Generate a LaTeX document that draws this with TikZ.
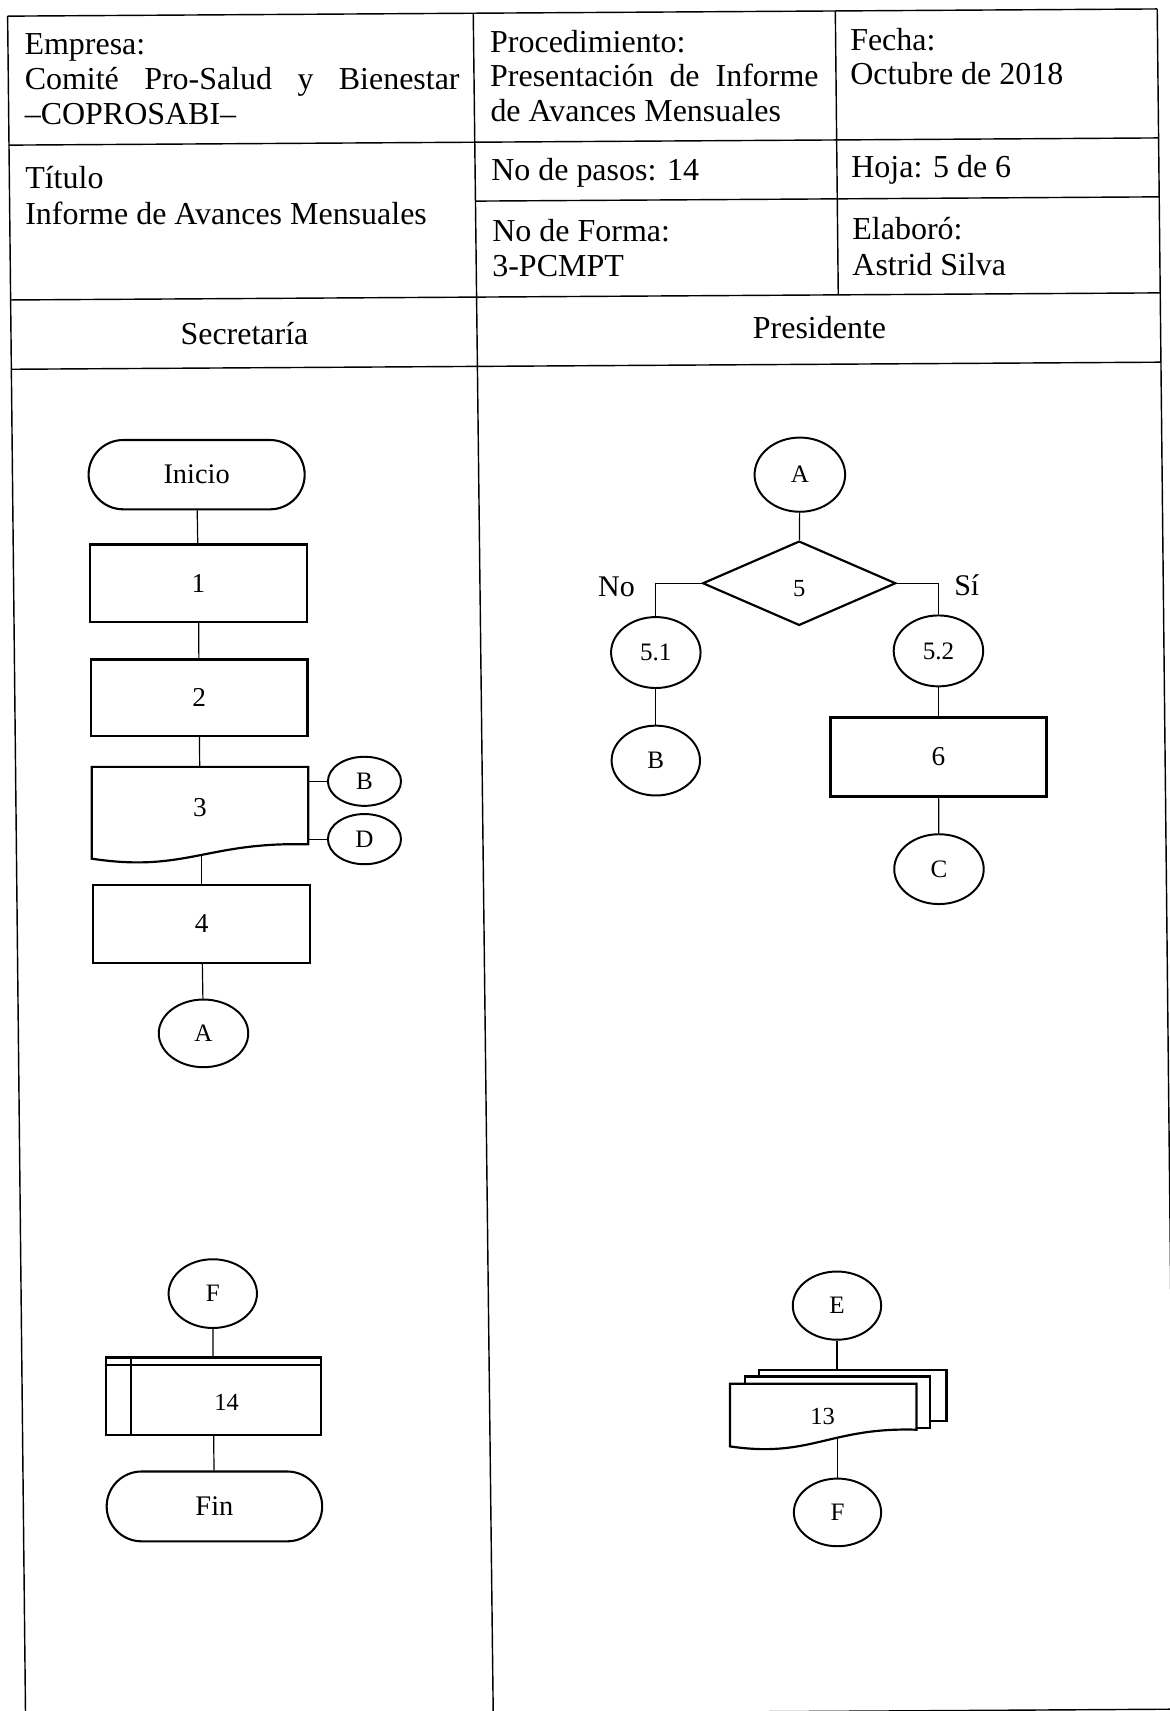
\documentclass[tikz,border=0pt]{standalone}
\usepackage{fontspec}
\setmainfont{Liberation Serif}
\usetikzlibrary{shapes.geometric}
\begin{document}
\begin{tikzpicture}[x=1pt,y=-1pt,
  tbl/.style={line width=1.3pt},
  conn/.style={line width=1.1pt},
  boxn/.style={draw, rectangle, line width=2.1pt, inner sep=0pt, minimum width=198.5pt, minimum height=71pt, font=\fontsize{25}{25}\selectfont},
  term/.style={draw, rectangle, line width=1.9pt, inner sep=0pt, minimum width=198pt, minimum height=63.5pt, rounded corners=31.7pt, font=\fontsize{26}{26}\selectfont},
  conE/.style={draw, ellipse, line width=1.8pt, inner sep=0pt, minimum width=81pt, minimum height=63pt, font=\fontsize{23}{23}\selectfont},
  smallE/.style={conE, minimum width=67pt, minimum height=45pt},
  docl/.style={draw, line width=2pt},
  hdr/.style={inner sep=0pt, anchor=base west, font=\fontsize{29.3}{31}\selectfont},
  lane/.style={inner sep=0pt, anchor=base, font=\fontsize{29.3}{31}\selectfont},
  lbl/.style={inner sep=0pt, font=\fontsize{27.5}{27.5}\selectfont},
  numt/.style={inner sep=0pt, font=\fontsize{22.5}{22.5}\selectfont}
]
\useasboundingbox (0,0) rectangle (1072,1568);
\clip (0,0) rectangle (1072,1568);
\fill[white] (0,0) rectangle (1072,1568);

% ---------- table frame ----------
\coordinate (TL) at (7,14.8);
\coordinate (TM) at (433.7,12.1);
\coordinate (TC) at (765.5,10.05);
\coordinate (TR) at (1060.5,8.2);
\coordinate (R1L) at (8.2,133);
\coordinate (R1R) at (1061.8,126.4);
\coordinate (RmM) at (435.7,184.3);
\coordinate (RmR) at (1062.3,180.4);
\coordinate (R2L) at (9.7,274.9);
\coordinate (R2C) at (768.2,270.2);
\coordinate (R2R) at (1063.2,268.4);
\coordinate (R3L) at (10.4,338.4);
\coordinate (R3R) at (1063.9,331.9);
\coordinate (BL) at (23.4,1572.9);
\coordinate (BM) at (452,1570.2);
\coordinate (BR) at (1076.9,1566.3);

\draw[tbl] (TL) -- (TR);
\draw[tbl] (R1L) -- (R1R);
\draw[tbl] (RmM) -- (RmR);
\draw[tbl] (R2L) -- (R2R);
\draw[tbl] (R3L) -- (R3R);
\draw[tbl] (BL) -- (BR);
\draw[tbl] (TL) -- (BL);
\draw[tbl] (TM) -- (BM);
\draw[tbl] (TC) -- (R2C);
\draw[tbl] (TR) -- (BR);

% ---------- header texts ----------
\node[hdr] (emp) at (22.3,50.4) {Empresa:};
\node[hdr] (com) at (22.5,82.4) {\hbox to 398.5pt{Comité\hfill Pro-Salud\hfill y\hfill Bienestar}};
\node[hdr] (cop) at (22.5,113.9) {–COPROSABI–};
\node[hdr] (tit) at (23,172.7) {Título};
\node[hdr] (inf) at (23,205.6) {Informe de Avances Mensuales};
\node[lane] (sec) at (224,315.7) {Secretaría};

\node[hdr] (proc) at (449,47.7) {Procedimiento:};
\node[hdr] (pres) at (449,79.7) {\hbox to 301pt{Presentación\hfill de\hfill Informe}};
\node[hdr] (dav) at (449.3,111.2) {de Avances Mensuales};
\node[hdr] (pas) at (450,165.5) {No de pasos: 14};
\node[hdr] (for) at (451,221.7) {No de Forma:};
\node[hdr] (pcm) at (451,253.7) {3-PCMPT};
\node[lane] (prs) at (751,310) {Presidente};

\node[hdr] (fec) at (779,46.5) {Fecha:};
\node[hdr] (oct) at (779,77.5) {Octubre de 2018};
\node[hdr] (hoj) at (780,162.5) {Hoja: 5 de 6};
\node[hdr] (ela) at (781,219.7) {Elaboró:};
\node[hdr] (ast) at (781,252.2) {Astrid Silva};

% ---------- Secretaría lane, top ----------
\node[term] (ini) at (180.2,435) {Inicio};
\node[boxn] (p1) at (181.8,534.5) {1};
\node[boxn, minimum height=70pt] (p2) at (182.5,639.5) {2};
\draw[docl] (84,786.9) -- (84,702.8) -- (282.5,702.8) -- (282.5,773.8)
   .. controls (190,771) and (170,800) .. (84,786.9) -- cycle;
\node[inner sep=0pt, minimum width=198.5pt, minimum height=74.6pt, font=\fontsize{25}{25}\selectfont] (p3) at (183.3,740) {3};
\coordinate (p3b) at (184.8,784);
\node[boxn] (p4) at (184.8,846.7) {4};
\node[conE, minimum width=82pt, minimum height=62pt] (aL) at (186.5,947) {A};
\node[smallE] (bL) at (334,716) {B};
\node[smallE, minimum height=46pt] (dL) at (334,769) {D};

\draw[conn] (ini) -- (p1);
\draw[conn] (p1) -- (p2);
\draw[conn] (p2) -- (p3);
\draw[conn] (p3b) -- (p4);
\draw[conn] (p4) -- (aL);
\draw[conn] (bL.west) -- (bL.west -| p3.east);
\draw[conn] (dL.west) -- (dL.west -| p3.east);

% ---------- Secretaría lane, bottom ----------
\node[conE] (fL) at (195,1185.5) {F};
\node[draw, rectangle, line width=2pt, inner sep=0pt, minimum width=197pt, minimum height=71pt] (p14) at (195.4,1279.5) {};
\draw[docl] ([yshift=-8.2pt]p14.north west) -- ([yshift=-8.2pt]p14.north east);
\draw[docl] ([xshift=24pt]p14.north west) -- ([xshift=24pt]p14.south west);
\node[numt] (t14) at (207.6,1285) {14};
\node[term, minimum width=197.5pt, minimum height=64pt, rounded corners=32pt] (fin) at (196.5,1380.5) {Fin};

\draw[conn] (fL) -- (p14);
\draw[conn] (p14) -- (fin);

% ---------- Presidente lane, top ----------
\node[conE, minimum width=83pt, minimum height=68pt] (aR) at (733,435) {A};
\node[diamond, draw, line width=2pt, inner sep=0pt, minimum width=177pt, minimum height=77.3pt] (d5) at (732.4,534.5) {};
\node[numt] (t5) at (732.4,539) {5};
\node[lbl] (no) at (565,537.5) {No};
\node[lbl] (si) at (886,536.5) {Sí};
\node[conE, minimum width=82pt, minimum height=65pt] (n51) at (601,598) {5.1};
\node[conE, minimum width=81pt, minimum height=64pt] (bR) at (601,697) {B};
\node[conE, minimum width=82pt, minimum height=65pt] (n52) at (860,596.5) {5.2};
\node[boxn, minimum width=198pt, minimum height=72.5pt] (p6) at (860,693.8) {6};
\node[conE, minimum width=82pt, minimum height=64pt] (cR) at (860.5,796.5) {C};

\draw[conn] (aR) -- (d5);
\draw[conn] (d5.west) -| (n51.north);
\draw[conn] (n51) -- (bR);
\draw[conn] (d5.east) -| (n52.north);
\draw[conn] (n52) -- (p6);
\draw[conn] (p6) -- (cR);

% ---------- Presidente lane, bottom ----------
\node[conE, minimum width=81pt, minimum height=62.5pt] (eR) at (767,1196.5) {E};
\draw[docl, fill=white] (695.7,1255.3) rectangle (867.4,1302);
\draw[docl, fill=white] (682.6,1261.4) rectangle (852.1,1308.7);
\draw[docl, fill=white] (669,1325.5) -- (669,1268.1) -- (839.9,1268.1) -- (839.9,1310.2)
   .. controls (760.3,1307.7) and (743,1336.5) .. (669,1325.5) -- cycle;
\node[numt] (t13) at (753.8,1298) {13};
\coordinate (doct) at (767,1255.3);
\coordinate (docb) at (767.5,1317.5);
\node[conE, minimum width=80pt, minimum height=62pt] (fR) at (767.5,1386) {F};

\draw[conn] (eR) -- (doct);
\draw[conn] (docb) -- (fR);
\end{tikzpicture}
\end{document}
